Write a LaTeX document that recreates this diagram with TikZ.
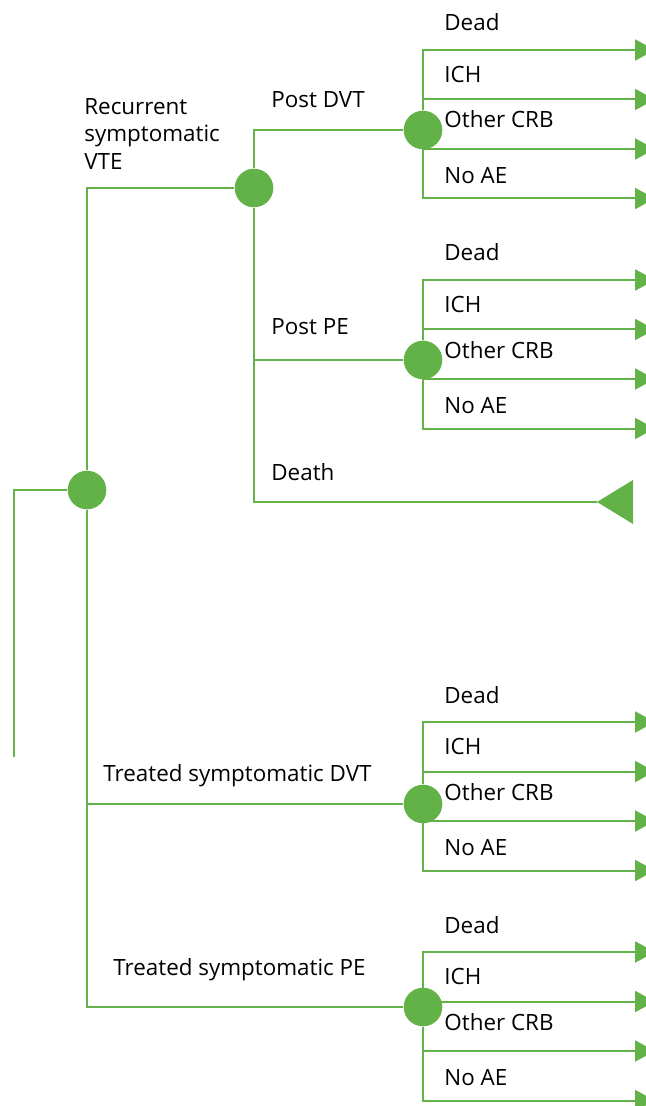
\documentclass[tikz,border=0pt]{standalone}
\usepackage{fontspec}
\setmainfont{Open Sans}
\usetikzlibrary{arrows.meta, backgrounds}
\definecolor{treeGreen}{RGB}{99,178,72}
\tikzstyle{branch}=[draw=treeGreen, line width=1pt]
\tikzstyle{outcome}=[branch, -{Triangle[length=10pt, width=10.5pt]}]
\tikzstyle{chance}=[circle, fill=treeGreen, minimum size=19.3pt, inner sep=0pt]
\tikzstyle{treeText}=[anchor=base west, inner sep=0pt, align=left,
font=\fontsize{11.2}{13.75}\selectfont]

\begin{document}
\begin{tikzpicture}[x=0.5pt, y=-0.5pt]
    \useasboundingbox (0,0) rectangle (646,1106);
    % chance nodes
    \node (root) [chance] at (87,490) {};
    \node (recurrent) [chance] at (254,188) {};
    \node (postDVT) [chance] at (423,130) {};
    \node (postPE) [chance] at (423,360) {};
    \node (treatedDVT) [chance] at (423,804) {};
    \node (treatedPE) [chance] at (423,1007) {};
    \coordinate (rootIn) at (14,757);
    \coordinate (deathEnd) at (597,502);
    % branch texts
    \node (recurrentText) [treeText, anchor=north west] at (84,98)
      {Recurrent\\symptomatic\\VTE};
    \node (postDVTText) [treeText] at (271,108) {Post DVT};
    \node (postPEText) [treeText] at (271,335) {Post PE};
    \node (deathText) [treeText] at (271,480) {Death};
    \node (treatedDVTText) [treeText] at (103,781) {Treated symptomatic DVT};
    \node (treatedPEText) [treeText] at (113,975) {Treated symptomatic PE};
    \begin{scope}[on background layer]
      \draw [branch] (rootIn) |- (root);
      \draw [branch] (root) |- (recurrent);
      \draw [branch] (root) |- (treatedDVT);
      \draw [branch] (root) |- (treatedPE);
      \draw [branch] (recurrent) |- (postDVT);
      \draw [branch] (recurrent) |- (postPE);
      \draw [branch] (recurrent) |- (deathEnd);
      \fill [treeGreen] (deathEnd) -- ++(36,-22) -- ++(0,44) -- cycle;
      % outcomes of each chance node
      \foreach \c/\top in {postDVT/50, postPE/280, treatedDVT/722, treatedPE/952} {
        \foreach \dy/\by/\txt [count=\i] in
            {0/-19/Dead, 49.5/-17/ICH, 99/-21/Other CRB, 148.5/-15/No AE} {
          \coordinate (\c-end\i) at (655,\top+\dy);
          \draw [outcome] (\c) |- (\c-end\i);
          \node (\c-text\i) [treeText] at (444,\top+\dy+\by) {\txt};
        }
      }
    \end{scope}
\end{tikzpicture}
\end{document}
